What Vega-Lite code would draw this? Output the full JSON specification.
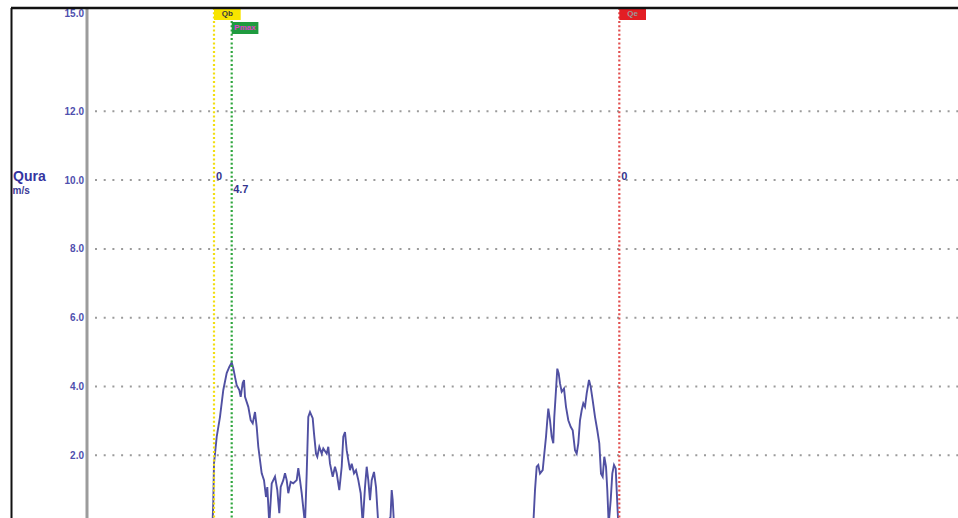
{
  "$schema": "https://vega.github.io/schema/vega-lite/v6.json",
  "width": 947,
  "height": 510,
  "autosize": {"type": "none"},
  "padding": {"left": 11, "top": 8, "right": 0, "bottom": 0},
  "background": "white",
  "config": {
    "view": {"stroke": null},
    "font": "Liberation Sans",
    "axisY": {
      "offset": -75.5,
      "domainColor": "#9c9c9c",
      "domainWidth": 3,
      "ticks": false,
      "tickSize": 0,
      "grid": false,
      "labelFont": "Liberation Sans",
      "labelFontSize": 10,
      "labelFontWeight": "bold",
      "labelColor": "#4f4fae",
      "labelPadding": 3,
      "labelFlush": true,
      "titleAngle": 0,
      "titleAlign": "left",
      "titleBaseline": "middle",
      "titleX": -74,
      "titleY": 168,
      "titleFont": "Liberation Sans",
      "titleFontSize": 14,
      "titleFontWeight": "bold",
      "titleColor": "#3434a0"
    }
  },
  "datasets": {
    "grid": [{"v": 2}, {"v": 4}, {"v": 6}, {"v": 8}, {"v": 10}, {"v": 12}],
    "markers": [
      {"marker": "Qb", "t": 203, "label": "0"},
      {"marker": "Pmax", "t": 220.7, "label": "4.7"},
      {"marker": "Qe", "t": 608.3, "label": "0"}
    ],
    "wave": [
      {"t": 189, "v": 0}, {"t": 201.5, "v": 0}, {"t": 202.3, "v": 0.65}, {"t": 203, "v": 1.77},
      {"t": 205.7, "v": 2.54}, {"t": 209, "v": 3.12}, {"t": 212.3, "v": 3.9}, {"t": 215.7, "v": 4.39},
      {"t": 218.3, "v": 4.57}, {"t": 220.7, "v": 4.7}, {"t": 222.3, "v": 4.53}, {"t": 224, "v": 4.28},
      {"t": 225.7, "v": 4.04}, {"t": 228.3, "v": 3.9}, {"t": 229.7, "v": 3.7}, {"t": 231.7, "v": 4.1},
      {"t": 233, "v": 4.19}, {"t": 234, "v": 3.7}, {"t": 237.3, "v": 3.41}, {"t": 239.7, "v": 3.02},
      {"t": 241.7, "v": 2.93}, {"t": 244, "v": 3.26}, {"t": 245.7, "v": 2.83}, {"t": 247.3, "v": 2.25},
      {"t": 249, "v": 1.86}, {"t": 250.7, "v": 1.48}, {"t": 253, "v": 1.28}, {"t": 255, "v": 0.79},
      {"t": 256.3, "v": 1.08}, {"t": 258.3, "v": 0}, {"t": 260.7, "v": 1.18}, {"t": 264, "v": 1.38},
      {"t": 266.3, "v": 0.99}, {"t": 268.3, "v": 0.32}, {"t": 269.7, "v": 1.08}, {"t": 272.3, "v": 1.28},
      {"t": 274, "v": 1.48}, {"t": 275.7, "v": 1.28}, {"t": 277.3, "v": 0.9}, {"t": 279.7, "v": 1.23},
      {"t": 282.3, "v": 1.19}, {"t": 285.7, "v": 1.28}, {"t": 287.3, "v": 1.63}, {"t": 289, "v": 1.28},
      {"t": 290.7, "v": 0.9}, {"t": 294, "v": 0}, {"t": 295.7, "v": 1.48}, {"t": 297.3, "v": 3.12},
      {"t": 299, "v": 3.26}, {"t": 301.7, "v": 3.08}, {"t": 303, "v": 2.64}, {"t": 305, "v": 2.05},
      {"t": 306.3, "v": 1.96}, {"t": 308.3, "v": 2.25}, {"t": 310.7, "v": 2.05}, {"t": 312.3, "v": 2.2},
      {"t": 315.7, "v": 2.05}, {"t": 317.3, "v": 2.25}, {"t": 319, "v": 1.76}, {"t": 321.7, "v": 1.38},
      {"t": 324, "v": 1.67}, {"t": 325.7, "v": 1.48}, {"t": 328.3, "v": 0.99}, {"t": 330.7, "v": 1.67},
      {"t": 332.3, "v": 2.54}, {"t": 334, "v": 2.68}, {"t": 335.7, "v": 2.15}, {"t": 337.3, "v": 1.86},
      {"t": 339, "v": 1.57}, {"t": 340.7, "v": 1.76}, {"t": 343, "v": 1.48}, {"t": 345, "v": 1.57},
      {"t": 347.3, "v": 1.28}, {"t": 349.7, "v": 0.9}, {"t": 351.7, "v": 0}, {"t": 354, "v": 1.08},
      {"t": 355.7, "v": 1.67}, {"t": 357.3, "v": 1.28}, {"t": 359, "v": 0.7}, {"t": 360.7, "v": 1.28},
      {"t": 363, "v": 1.52}, {"t": 365, "v": 1.08}, {"t": 367.3, "v": 0}, {"t": 374, "v": 0},
      {"t": 379.5, "v": 0.2}, {"t": 380.7, "v": 0.99}, {"t": 381.7, "v": 0.7}, {"t": 383, "v": 0},
      {"t": 509, "v": 0}, {"t": 522.3, "v": 0}, {"t": 524, "v": 0.99}, {"t": 525.7, "v": 1.67},
      {"t": 527.3, "v": 1.72}, {"t": 529, "v": 1.47}, {"t": 531.7, "v": 1.57}, {"t": 533, "v": 1.96},
      {"t": 535, "v": 2.54}, {"t": 536.3, "v": 3.02}, {"t": 537.3, "v": 3.36}, {"t": 539, "v": 3.02},
      {"t": 540.7, "v": 2.54}, {"t": 542.3, "v": 2.35}, {"t": 543.3, "v": 3.12}, {"t": 545, "v": 3.9},
      {"t": 546.3, "v": 4.52}, {"t": 547.7, "v": 4.38}, {"t": 549, "v": 4.09}, {"t": 550.7, "v": 3.85},
      {"t": 553, "v": 3.94}, {"t": 555, "v": 3.41}, {"t": 557.3, "v": 3.02}, {"t": 559.7, "v": 2.83},
      {"t": 561.7, "v": 2.73}, {"t": 564, "v": 2.15}, {"t": 565.7, "v": 2.05}, {"t": 567.3, "v": 2.35},
      {"t": 569, "v": 3.02}, {"t": 570.7, "v": 3.31}, {"t": 572.3, "v": 3.51}, {"t": 574, "v": 3.41},
      {"t": 575.7, "v": 3.8}, {"t": 578, "v": 4.19}, {"t": 579.7, "v": 3.99}, {"t": 581.7, "v": 3.6},
      {"t": 584, "v": 3.12}, {"t": 586.3, "v": 2.73}, {"t": 588.3, "v": 2.35}, {"t": 590, "v": 1.47},
      {"t": 591.7, "v": 1.38}, {"t": 593.3, "v": 1.96}, {"t": 595, "v": 1.67}, {"t": 596.3, "v": 0.99},
      {"t": 597.7, "v": 0}, {"t": 599.7, "v": 0.7}, {"t": 601.3, "v": 1.47}, {"t": 603, "v": 1.72},
      {"t": 604.7, "v": 1.62}, {"t": 606.3, "v": 0.6}, {"t": 607.3, "v": 0}, {"t": 629, "v": 0}
    ]
  },
  "layer": [
    {
      "data": {"name": "grid"},
      "mark": {"type": "rule", "color": "#9b9b9b", "strokeWidth": 2, "strokeDash": [2, 6.7]},
      "encoding": {
        "y": {
          "field": "v",
          "type": "quantitative",
          "title": "Qura",
          "scale": {"domain": [0.18, 15], "nice": false, "zero": false},
          "axis": {"values": [2, 4, 6, 8, 10, 12, 15], "format": ".1f"}
        },
        "x": {"datum": 84, "type": "quantitative", "scale": {"domain": [0, 947], "nice": false, "zero": false}, "axis": null},
        "x2": {"datum": 947}
      }
    },
    {
      "data": {"name": "wave"},
      "mark": {"type": "line", "color": "#5050a2", "strokeWidth": 1.9, "clip": true},
      "encoding": {
        "x": {"field": "t", "type": "quantitative", "axis": null},
        "y": {"field": "v", "type": "quantitative", "title": "Qura", "axis": {"values": [2, 4, 6, 8, 10, 12, 15], "format": ".1f"}}
      }
    },
    {
      "data": {"name": "markers"},
      "mark": {"type": "rule", "strokeWidth": 2.2, "strokeDash": [2, 2.3]},
      "encoding": {
        "x": {"field": "t", "type": "quantitative", "axis": null},
        "stroke": {"field": "marker", "type": "nominal", "scale": {"domain": ["Qb", "Pmax", "Qe"], "range": ["#f2de10", "#2ea63c", "#e25050"]}, "legend": null}
      }
    },
    {
      "data": {"name": "markers"},
      "transform": [{"filter": "datum.marker !== 'Pmax'"}],
      "mark": {"type": "point", "shape": "M0,0H4.45V2H0Z", "size": 144, "filled": true, "opacity": 1, "strokeWidth": 0},
      "encoding": {
        "x": {"field": "t", "type": "quantitative", "axis": null},
        "y": {"datum": 15, "type": "quantitative"},
        "fill": {"field": "marker", "type": "nominal", "scale": {"domain": ["Qb", "Pmax", "Qe"], "range": ["#f8e400", "#1f9b3f", "#e31e24"]}, "legend": null}
      }
    },
    {
      "data": {"name": "markers"},
      "transform": [{"filter": "datum.marker === 'Pmax'"}],
      "mark": {"type": "point", "shape": "M0,0H4.45V2H0Z", "size": 144, "filled": true, "opacity": 1, "strokeWidth": 0, "yOffset": 14},
      "encoding": {
        "x": {"field": "t", "type": "quantitative", "axis": null},
        "y": {"datum": 15, "type": "quantitative"},
        "fill": {"field": "marker", "type": "nominal", "legend": null}
      }
    },
    {
      "data": {"name": "markers"},
      "transform": [{"filter": "datum.marker !== 'Pmax'"}],
      "mark": {"type": "text", "fontSize": 8, "fontWeight": "bold", "align": "center", "baseline": "middle", "dx": 13.3, "dy": 6},
      "encoding": {
        "x": {"field": "t", "type": "quantitative", "axis": null},
        "y": {"datum": 15, "type": "quantitative"},
        "text": {"field": "marker"},
        "color": {"field": "marker", "type": "nominal", "scale": {"domain": ["Qb", "Pmax", "Qe"], "range": ["#3a3a3a", "#e23ccf", "#9a9a9a"]}, "legend": null}
      }
    },
    {
      "data": {"name": "markers"},
      "transform": [{"filter": "datum.marker === 'Pmax'"}],
      "mark": {"type": "text", "fontSize": 8, "fontWeight": "bold", "align": "center", "baseline": "middle", "dx": 13.3, "dy": 6, "yOffset": 14},
      "encoding": {
        "x": {"field": "t", "type": "quantitative", "axis": null},
        "y": {"datum": 15, "type": "quantitative"},
        "text": {"field": "marker"},
        "color": {"field": "marker", "type": "nominal", "legend": null}
      }
    },
    {
      "data": {"name": "markers"},
      "transform": [{"filter": "datum.marker !== 'Pmax'"}],
      "mark": {"type": "text", "fontSize": 11, "fontWeight": "bold", "align": "left", "baseline": "alphabetic", "dx": 2, "color": "#34348e"},
      "encoding": {
        "x": {"field": "t", "type": "quantitative", "axis": null},
        "y": {"datum": 10, "type": "quantitative"},
        "text": {"field": "label"}
      }
    },
    {
      "data": {"name": "markers"},
      "transform": [{"filter": "datum.marker === 'Pmax'"}],
      "mark": {"type": "text", "fontSize": 11, "fontWeight": "bold", "align": "left", "baseline": "alphabetic", "dx": 1.5, "dy": 13, "color": "#34348e"},
      "encoding": {
        "x": {"field": "t", "type": "quantitative", "axis": null},
        "y": {"datum": 10, "type": "quantitative"},
        "text": {"field": "label"}
      }
    },
    {
      "data": {"values": [{}]},
      "mark": {"type": "rule", "color": "#111111", "strokeWidth": 2},
      "encoding": {"x": {"datum": 0.5, "type": "quantitative", "axis": null}}
    },
    {
      "data": {"values": [{}]},
      "mark": {"type": "rule", "color": "#111111", "strokeWidth": 2.5},
      "encoding": {"y": {"datum": 15, "type": "quantitative"}}
    },
    {
      "data": {"values": [{}]},
      "mark": {"type": "text", "text": "m/s", "fontSize": 10, "fontWeight": "bold", "align": "left", "baseline": "middle", "color": "#3a3a96"},
      "encoding": {
        "x": {"datum": 1.5, "type": "quantitative", "axis": null},
        "y": {"datum": 9.67, "type": "quantitative"}
      }
    }
  ]
}
